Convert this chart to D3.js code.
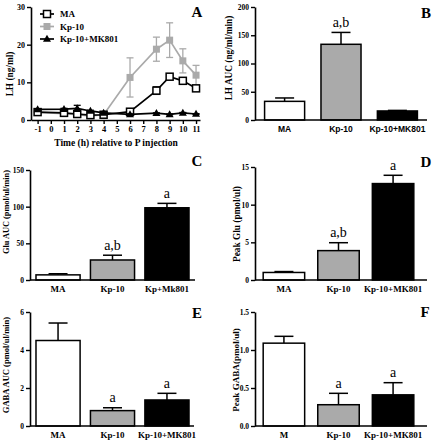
<!DOCTYPE html>
<html><head><meta charset="utf-8">
<script src="https://cdn.jsdelivr.net/npm/d3@7"></script>
<style>
body{margin:0;background:#fff}
svg{display:block}
</style>
</head><body><svg id="c" width="432" height="441" font-family="Liberation Serif, Times New Roman, serif" font-weight="bold"></svg>
<script>
// ---------- DATA ----------
const timeTicks = [-1,0,1,2,3,4,5,6,7,8,9,10,11];
const lhTimes   = [-1,1,2,3,4,6,8,9,10,11];
const lhMA      = [2.1,1.9,1.6,1.3,1.4,2.2,7.8,11.5,10.4,8.4];
const lhMAErr   = [0.3,0.3,0.3,0.2,0.2,0.3,1.0,0.4,0.4,0.4];
const lhKp      = [2.0,1.7,1.4,1.1,1.4,11.3,18.8,21.2,15.7,11.9];
const lhKpErr   = [0.3,0.3,0.3,0.2,0.3,5.2,3.2,4.6,3.2,2.6];
const lhMK      = [2.8,2.9,3.1,2.4,1.9,1.5,1.8,1.5,1.9,1.6];
const lhMKErr   = [0.2,0.2,0.8,0.2,0.2,0.1,0.1,0.1,0.1,0.1];
const lhSeriesNames = ["MA","Kp-10","Kp-10+MK801"];
const lhYTicks = [0,10,20,30];

const groupsB = ["MA","Kp-10","Kp-10+MK801"];
const lhAuc = [33,134,16];
const lhAucErr = [6,21,1];
const lhAucSig = ["","a,b",""];
const lhAucTicks = [0,50,100,150,200];

const groupsC = ["MA","Kp-10","Kp+Mk801"];
const gluAuc = [7,27.3,98.5];
const gluAucErr = [1.5,6.5,6];
const gluAucSig = ["","a,b","a"];
const gluAucTicks = [0,50,100,150];

const groupsD = ["MA","Kp-10","Kp-10+MK801"];
const peakGlu = [1.0,3.9,12.8];
const peakGluErr = [0.12,1.05,1.1];
const peakGluSig = ["","a,b","a"];
const peakGluTicks = [0,5,10,15];

const groupsE = ["MA","Kp-10","Kp-10+MK801"];
const gabaAuc = [4.5,0.81,1.37];
const gabaAucErr = [0.92,0.15,0.35];
const gabaAucSig = ["","a","a"];
const gabaAucTicks = [0,2,4,6];

const groupsF = ["M","Kp-10","Kp-10+MK801"];
const peakGaba = [1.09,0.28,0.41];
const peakGabaErr = [0.09,0.15,0.16];
const peakGabaSig = ["","a","a"];
const peakGabaTicks = [0,0.5,1.0,1.5];

// ---------- STYLE ----------
const GREY = "#aaaaaa";
const barFills = ["#ffffff", GREY, "#000000"];
const serif = "Liberation Serif, Times New Roman, serif", sans = "Liberation Sans, Arial, sans-serif";
const svg = d3.select("#c");
svg.append("rect").attr("width",432).attr("height",441).attr("fill","#fff");

function styleAxis(g, size){
  g.attr("font-family", serif).attr("font-weight","bold");
  g.select(".domain").attr("stroke","#000").attr("stroke-width",1.6);
  g.selectAll(".tick line").attr("stroke","#000").attr("stroke-width",1.4);
  g.selectAll(".tick text").attr("font-family",serif).attr("font-weight","bold").attr("font-size",size).attr("fill","#000");
}

// ---------- PANEL A ----------
(function(){
  const x = d3.scaleLinear().domain([-1.5,11.3]).range([31,200]);
  const y = d3.scaleLinear().domain([0,30]).range([120,7]);
  const gy = svg.append("g").attr("transform","translate(31,0)")
    .call(d3.axisLeft(y).tickValues(lhYTicks).tickSize(4).tickSizeOuter(0).tickPadding(2));
  styleAxis(gy, 8);
  const gx = svg.append("g").attr("transform","translate(0,120)")
    .call(d3.axisBottom(x).tickValues(timeTicks).tickFormat(d=>String(d)).tickSize(4).tickSizeOuter(0).tickPadding(2));
  styleAxis(gx, 8.5);
  svg.append("text").attr("x",116).attr("y",146).attr("text-anchor","middle").attr("font-size",9.5)
    .text("Time (h) relative to P injection");
  svg.append("text").attr("transform","translate(13,74) rotate(-90)").attr("text-anchor","middle")
    .attr("font-size",9.3).text("LH (ng/ml)");
  svg.append("text").attr("x",197).attr("y",17).attr("text-anchor","middle").attr("font-size",15).text("A");

  const series = [
    {name:lhSeriesNames[1], v:lhKp, e:lhKpErr, color:GREY, shape:"sq", fill:GREY},
    {name:lhSeriesNames[0], v:lhMA, e:lhMAErr, color:"#000", shape:"sq", fill:"#fff"},
    {name:lhSeriesNames[2], v:lhMK, e:lhMKErr, color:"#000", shape:"tri", fill:"#000"}
  ];
  const line = d3.line().x((d,i)=>x(lhTimes[i])).y(d=>y(d));
  function marker(g, cx, cy, s){
    if(s.shape==="sq"){
      g.append("rect").attr("x",cx-3.5).attr("y",cy-3.5).attr("width",7).attr("height",7)
        .attr("fill",s.fill).attr("stroke",s.color).attr("stroke-width",s.fill==="#fff"?1.5:0);
    } else {
      g.append("path").attr("d",d3.symbol(d3.symbolTriangle,28)()).attr("transform",`translate(${cx},${cy+0.5})`)
        .attr("fill",s.fill);
    }
  }
  series.forEach(s=>{
    const g = svg.append("g");
    s.v.forEach((v,i)=>{
      const cx = x(lhTimes[i]);
      g.append("line").attr("x1",cx).attr("x2",cx).attr("y1",y(v-s.e[i])).attr("y2",y(v+s.e[i]))
        .attr("stroke",s.color).attr("stroke-width",1.3);
      [v-s.e[i], v+s.e[i]].forEach(t=>g.append("line").attr("x1",cx-3.5).attr("x2",cx+3.5)
        .attr("y1",y(t)).attr("y2",y(t)).attr("stroke",s.color).attr("stroke-width",1.3));
    });
    g.append("path").attr("d",line(s.v)).attr("fill","none").attr("stroke",s.color).attr("stroke-width",1.7);
    s.v.forEach((v,i)=>marker(g, x(lhTimes[i]), y(v), s));
  });
  // legend
  const legOrder = [series[1], series[0], series[2]];
  legOrder.forEach((s,i)=>{
    const ly = 14 + i*12.5;
    const g = svg.append("g");
    g.append("line").attr("x1",40).attr("x2",54).attr("y1",ly).attr("y2",ly).attr("stroke",s.color).attr("stroke-width",1.7);
    marker(g, 47, ly, s);
    g.append("text").attr("x",60).attr("y",ly+3.2).attr("font-size",9).text(s.name);
  });
})();

// ---------- BAR PANELS ----------
function barPanel(o){
  const x = d3.scaleBand().domain(o.groups).range([o.x0,o.x1]).paddingInner(o.pi).paddingOuter(o.po);
  const y = d3.scaleLinear().domain([0,o.max]).range([o.yb,o.yt]);
  const g = svg.append("g");
  o.values.forEach((v,i)=>{
    const cx = x(o.groups[i]) + x.bandwidth()/2;
    const top = y(v+o.errs[i]);
    g.append("line").attr("x1",cx).attr("x2",cx).attr("y1",y(v)).attr("y2",top).attr("stroke","#000").attr("stroke-width",1.5);
    g.append("line").attr("x1",cx-9.5).attr("x2",cx+9.5).attr("y1",top).attr("y2",top).attr("stroke","#000").attr("stroke-width",1.5);
    g.append("rect").attr("x",x(o.groups[i])).attr("y",y(v)).attr("width",x.bandwidth()).attr("height",y(0)-y(v))
      .attr("fill",barFills[i]).attr("stroke","#000").attr("stroke-width",1.5);
    if(o.sig[i]) g.append("text").attr("x",cx).attr("y",top-5.5).attr("text-anchor","middle")
      .attr("font-weight","normal").attr("font-size",14).text(o.sig[i]);
  });
  const gy = svg.append("g").attr("transform",`translate(${o.x0},0)`)
    .call(d3.axisLeft(y).tickValues(o.ticks).tickFormat(o.fmt).tickSize(4).tickSizeOuter(0).tickPadding(2));
  styleAxis(gy, 7.5);
  svg.append("line").attr("x1",o.x0).attr("x2",o.xEnd).attr("y1",o.yb).attr("y2",o.yb).attr("stroke","#000").attr("stroke-width",1.6);
  o.groups.forEach(c=>{
    svg.append("text").attr("x",x(c)+x.bandwidth()/2).attr("y",o.yb+11.5).attr("text-anchor","middle")
      .attr("font-size",o.catSize).attr("font-family",o.catFont).text(c);
  });
  svg.append("text").attr("transform",`translate(${o.tx},${o.ty}) rotate(-90)`).attr("text-anchor","middle")
    .attr("font-size",o.titleSize).text(o.title);
  svg.append("text").attr("x",o.lx).attr("y",o.ly).attr("text-anchor","middle").attr("font-size",15).text(o.label);
}
const dfmt = d3.format("d"), ffmt = d3.format(".1f");

barPanel({groups:groupsB, values:lhAuc, errs:lhAucErr, sig:lhAucSig, ticks:lhAucTicks, fmt:dfmt, max:200,
  x0:255, x1:427, xEnd:427, pi:0.29, po:0.17, yb:120, yt:7, catFont:sans, catSize:8.5,
  title:"LH AUC (ng/ml/min)", titleSize:9.3, tx:232, ty:58, label:"B", lx:426, ly:18});
barPanel({groups:groupsC, values:gluAuc, errs:gluAucErr, sig:gluAucSig, ticks:gluAucTicks, fmt:dfmt, max:150,
  x0:30, x1:195, xEnd:195, pi:0.19, po:0.11, yb:280, yt:170, catFont:serif, catSize:9,
  title:"Glu AUC (pmol/ul/min)", titleSize:8.3, tx:8.5, ty:212, label:"C", lx:197, ly:166});
barPanel({groups:groupsD, values:peakGlu, errs:peakGluErr, sig:peakGluSig, ticks:peakGluTicks, fmt:dfmt, max:15,
  x0:255, x1:422, xEnd:427, pi:0.24, po:0.15, yb:280, yt:167, catFont:serif, catSize:9,
  title:"Peak Glu (pmol/ul)", titleSize:9.3, tx:240, ty:224, label:"D", lx:426, ly:167});
barPanel({groups:groupsE, values:gabaAuc, errs:gabaAucErr, sig:gabaAucSig, ticks:gabaAucTicks, fmt:dfmt, max:6,
  x0:30, x1:195, xEnd:194, pi:0.19, po:0.11, yb:426, yt:312, catFont:serif, catSize:9,
  title:"GABA AUC (pmol/ul/min)", titleSize:8.5, tx:8.5, ty:365, label:"E", lx:197, ly:318});
barPanel({groups:groupsF, values:peakGaba, errs:peakGabaErr, sig:peakGabaSig, ticks:peakGabaTicks, fmt:ffmt, max:1.5,
  x0:255, x1:422, xEnd:427, pi:0.24, po:0.15, yb:426, yt:312, catFont:serif, catSize:9,
  title:"Peak GABA(pmol/ul)", titleSize:9.1, tx:239, ty:370, label:"F", lx:425, ly:317});
</script>
</body></html>
